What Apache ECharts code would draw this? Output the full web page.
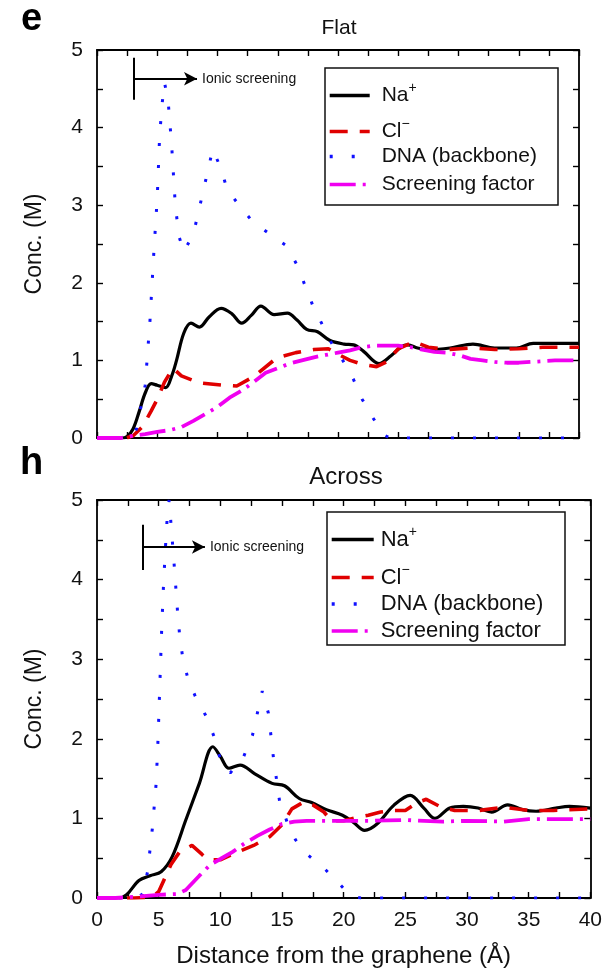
<!DOCTYPE html>
<html>
<head>
<meta charset="utf-8">
<title>Ion concentration profiles near graphene</title>
<script src="https://cdn.jsdelivr.net/npm/echarts@6/dist/echarts.min.js"></script>
<style>
  html, body { margin: 0; padding: 0; background: #fff; }
  #chart { width: 605px; height: 971px; }
</style>
</head>
<body>
<div id="chart"></div>
<script>
// Distance from the graphene (Å) vs concentration (M), panel "Flat"
const flatNa = [[0,0],[2,0],[2.5,0.02],[3,0.12],[3.5,0.34],[4,0.58],[4.5,0.70],[5,0.68],[5.7,0.65],[6.2,0.8],[6.6,1.0],[7.2,1.35],[7.8,1.48],[8.5,1.43],[9.3,1.56],[10.3,1.67],[11.2,1.6],[12.0,1.48],[12.8,1.58],[13.6,1.70],[14.7,1.59],[15.8,1.61],[16.6,1.52],[17.4,1.40],[18.3,1.37],[19.3,1.26],[20.5,1.21],[21.3,1.2],[22.1,1.12],[23.4,0.96],[24.4,1.06],[25.3,1.18],[25.8,1.2],[26.6,1.16],[27.5,1.14],[29.3,1.16],[31.2,1.21],[33,1.16],[34.8,1.16],[36.2,1.22],[38,1.22],[40,1.22]];
const flatCl = [[0,0],[2.4,0],[3,0.03],[3.8,0.15],[4.5,0.35],[5,0.5],[5.6,0.72],[6.3,0.9],[7,0.8],[8.5,0.71],[10.5,0.68],[11.6,0.67],[13,0.79],[14.9,1.03],[16.5,1.1],[18,1.14],[19.2,1.15],[20,1.08],[21,1.0],[22,0.95],[23.2,0.92],[24,0.98],[25,1.15],[26.3,1.24],[27.5,1.17],[29,1.14],[31,1.16],[33,1.14],[35,1.15],[37,1.17],[40,1.17]];
const flatDna = [[0,0],[3,0],[3.3,0.13],[4.0,0.68],[4.4,1.52],[4.7,2.35],[5.0,3.1],[5.2,3.9],[5.4,4.3],[5.6,4.58],[5.9,4.35],[6.2,3.76],[6.5,3.0],[6.8,2.6],[7.2,2.4],[8.0,2.63],[8.8,3.17],[9.6,3.72],[10.3,3.47],[10.8,3.2],[11.8,3.0],[12.9,2.79],[14.4,2.62],[15.7,2.48],[16.6,2.23],[17.9,1.71],[19.4,1.24],[20.4,1.0],[21.3,0.75],[22.0,0.5],[22.9,0.26],[23.8,0.04],[24.3,0],[40,0]];
const flatScr = [[0,0],[2,0],[3,0.03],[4,0.05],[5,0.08],[6,0.1],[7,0.14],[8,0.22],[9,0.31],[10,0.4],[11,0.52],[12,0.61],[13,0.72],[14,0.84],[15,0.9],[16,0.96],[17,1.0],[18,1.04],[19,1.07],[20,1.1],[21,1.13],[22,1.17],[23,1.19],[24,1.19],[25,1.19],[26,1.17],[27,1.14],[28,1.11],[29,1.1],[30,1.07],[31,1.02],[32,1.0],[33,0.98],[34,0.97],[35,0.97],[36,0.98],[37,0.99],[38,1.0],[39,1.0],[40,1.0]];

// Panel "Across"
const acrossNa = [[0,0],[1.8,0],[2.4,0.04],[3.4,0.22],[4.3,0.28],[5.2,0.33],[6.1,0.52],[7.2,0.98],[8.3,1.44],[9.4,1.9],[10.0,1.78],[10.7,1.63],[11.6,1.67],[12.8,1.56],[14.2,1.44],[15.2,1.41],[16.4,1.25],[17.4,1.2],[18.6,1.11],[19.9,1.04],[20.8,0.95],[21.7,0.85],[22.7,0.93],[24.1,1.17],[25.4,1.29],[26.5,1.13],[27.4,1.0],[28.6,1.13],[29.7,1.15],[30.9,1.13],[32.0,1.08],[33.3,1.17],[34.5,1.11],[35.6,1.09],[37.2,1.13],[38.3,1.15],[40,1.13]];
const acrossCl = [[0,0],[3,0],[4.5,0.01],[5,0.08],[5.5,0.25],[6,0.42],[6.7,0.58],[7.7,0.66],[8.5,0.55],[9,0.48],[10,0.48],[11,0.55],[12.7,0.66],[14,0.77],[15,0.92],[15.8,1.12],[16.8,1.21],[17.5,1.17],[18.4,1.08],[19,0.97],[20,0.97],[21,1.01],[22,1.04],[23,1.08],[24,1.1],[25,1.1],[26,1.2],[26.7,1.24],[27.8,1.15],[29,1.1],[31,1.1],[33,1.14],[35,1.1],[37,1.1],[40,1.12]];
const acrossDna = [[0,0],[3.2,0],[3.7,0.05],[4.1,0.33],[4.5,0.89],[4.8,1.45],[4.95,2.0],[5.1,2.7],[5.25,3.4],[5.4,3.96],[5.55,4.4],[5.7,4.8],[5.85,5.0],[6.0,4.7],[6.27,4.16],[6.53,3.6],[6.7,3.3],[6.93,3.04],[7.33,2.78],[7.95,2.54],[8.86,2.28],[9.56,2.0],[10.0,1.74],[10.8,1.57],[11.9,1.78],[12.6,2.04],[13.4,2.6],[13.9,2.32],[14.3,1.77],[14.8,1.22],[15.4,0.96],[16.1,0.73],[17.1,0.54],[18.5,0.36],[19.7,0.17],[20.6,0.02],[21.4,0],[40,0]];
const acrossScr = [[0,0],[1.5,0],[2.5,0.01],[3.5,0.02],[5,0.04],[6.5,0.05],[7.2,0.1],[8.3,0.28],[9.2,0.42],[10,0.49],[11,0.58],[12,0.69],[13,0.78],[14,0.86],[15,0.93],[16,0.96],[17,0.97],[20,0.97],[22,0.97],[25,0.98],[28,0.96],[30,0.97],[33,0.96],[35,0.99],[40,0.99]];

// Axis ranges and tick labels
const xTicks = [0, 5, 10, 15, 20, 25, 30, 35, 40];
const yTicks = [0, 1, 2, 3, 4, 5];
const seriesNames = ['Na+', 'Cl\u2212', 'DNA (backbone)', 'Screening factor'];
const panelTitles = ['Flat', 'Across'];
const panelLetters = ['e', 'h'];
const xAxisTitle = 'Distance from the graphene (\u00C5)';
const yAxisTitle = 'Conc. (M)';
const noteText = 'Ionic screening';
// Annotation bar and arrow, data coordinates [x, yLow, yHigh, yArrow, xArrowEnd]
const flatNote = [3.05, 4.36, 4.9, 4.63, 8.3];
const acrossNote = [3.72, 4.12, 4.69, 4.41, 8.75];

const FONT = 'Liberation Sans, Arial, Helvetica, sans-serif';
const INK = '#111';

const grids = [
  { left: 97, top: 50, width: 482, height: 388 },
  { left: 97, top: 500, width: 498, height: 398 }
];

// Legend boxes: frame rectangle, icon left edge, icon width, text gap, font size, row centres
const legendBoxes = [
  { x: 325, y: 68, w: 233, h: 137, iconX: 328, iconW: 40, textPad: 7, font: 21, rows: [93, 129, 158, 186] },
  { x: 327, y: 512, w: 238, h: 133, iconX: 330, iconW: 42, textPad: 2, font: 22, rows: [537, 575, 605, 632] }
];

const tickStyle = { color: '#000', width: 1.4 };

function xAxisFor(g, pos, labels) {
  return {
    type: 'value', gridIndex: g, position: pos,
    min: xTicks[0], max: xTicks[xTicks.length - 1], interval: xTicks[1] - xTicks[0],
    axisLine: { show: true, onZero: false, lineStyle: { color: '#000', width: 1.8 } },
    axisTick: { show: true, inside: true, length: 6, lineStyle: tickStyle },
    minorTick: { show: true, splitNumber: 2, length: 6, lineStyle: tickStyle },
    splitLine: { show: false },
    axisLabel: { show: labels, margin: 12, fontSize: 21, color: INK, fontFamily: FONT },
    name: labels ? xAxisTitle : '',
    nameLocation: 'middle', nameGap: 46,
    nameTextStyle: { fontSize: 24, color: INK, fontFamily: FONT }
  };
}
function yAxisFor(g, pos, labels) {
  return {
    type: 'value', gridIndex: g, position: pos,
    min: yTicks[0], max: yTicks[yTicks.length - 1], interval: yTicks[1] - yTicks[0],
    axisLine: { show: true, onZero: false, lineStyle: { color: '#000', width: 1.8 } },
    axisTick: { show: true, inside: true, length: 6, lineStyle: tickStyle },
    minorTick: { show: true, splitNumber: 2, length: 6, lineStyle: tickStyle },
    splitLine: { show: false },
    axisLabel: { show: labels, margin: 14, fontSize: 21, color: INK, fontFamily: FONT },
    name: labels ? yAxisTitle : '',
    nameLocation: 'middle', nameGap: 51,
    nameTextStyle: { fontSize: 23, color: INK, fontFamily: FONT }
  };
}

const styles = [
  { color: '#000000', width: 3.2, type: 'solid', smooth: 0.35 },
  { color: '#e00000', width: 3.6, type: [18, 12], smooth: 0 },
  { color: '#1010ff', width: 3.0, type: [3, 19], smooth: 0 },
  { color: '#f000f0', width: 3.8, type: [26, 7, 3, 7], smooth: 0 }
];

function noteMarks(n) {
  return {
    silent: true, animation: false,
    lineStyle: { color: '#000', width: 2, type: 'solid' },
    data: [
      [ { coord: [n[0], n[1]], symbol: 'none' },
        { coord: [n[0], n[2]], symbol: 'none' } ],
      [ { coord: [n[0], n[3]], symbol: 'none' },
        { coord: [n[4], n[3]], symbol: 'arrow', symbolSize: [10, 13],
          label: { show: true, position: 'end', distance: 5, formatter: noteText,
                   fontSize: 14, color: INK, fontFamily: FONT } } ]
    ],
    label: { show: false }
  };
}

const panelData = [
  [flatNa, flatCl, flatDna, flatScr],
  [acrossNa, acrossCl, acrossDna, acrossScr]
];
const notes = [flatNote, acrossNote];

const series = [];
panelData.forEach((sets, g) => {
  sets.forEach((d, i) => {
    const s = styles[i];
    const item = {
      type: 'line', name: seriesNames[i],
      xAxisIndex: g * 2, yAxisIndex: g * 2,
      data: d, symbol: 'none', showSymbol: false, smooth: s.smooth,
      clip: true, animation: false,
      lineStyle: { color: s.color, width: s.width, type: s.type, cap: 'butt' },
      itemStyle: { color: s.color },
      emphasis: { disabled: true }
    };
    if (i === 0) item.markLine = noteMarks(notes[g]);
    series.push(item);
  });
});

function richFor(size) {
  return {
    b: { fontSize: size, color: INK, fontFamily: FONT },
    s: { fontSize: Math.round(size * 0.65), color: INK, fontFamily: FONT, padding: [0, 0, Math.round(size * 0.7), 0] }
  };
}
function legendLabel(name) {
  if (name === 'Na+') return '{b|Na}{s|+}';
  if (name === 'Cl\u2212') return '{b|Cl}{s|\u2212}';
  return '{b|' + name + '}';
}

// One legend entry per row so each row sits at its own height inside the frame
const legends = [];
const frames = [];
legendBoxes.forEach((box) => {
  frames.push({
    type: 'rect', z: 3,
    shape: { x: box.x, y: box.y, width: box.w, height: box.h },
    style: { fill: '#fff', stroke: '#111', lineWidth: 1.5 }
  });
  seriesNames.forEach((name, i) => {
    legends.push({
      orient: 'vertical', left: box.iconX, top: box.rows[i] - 12, z: 5,
      data: [name], selectedMode: false,
      itemWidth: box.iconW, itemHeight: 24, itemGap: 0, padding: 0,
      lineStyle: { width: 3.4 },
      itemStyle: { opacity: 0 },
      formatter: legendLabel,
      textStyle: { fontSize: box.font, color: INK, fontFamily: FONT, padding: [0, 0, 0, box.textPad], rich: richFor(box.font) }
    });
  });
});

const option = {
  backgroundColor: '#fff',
  animation: false,
  grid: grids,
  xAxis: [xAxisFor(0, 'bottom', false), xAxisFor(0, 'top', false), xAxisFor(1, 'bottom', true), xAxisFor(1, 'top', false)],
  yAxis: [yAxisFor(0, 'left', true), yAxisFor(0, 'right', false), yAxisFor(1, 'left', true), yAxisFor(1, 'right', false)],
  legend: legends,
  graphic: frames.concat([
    { type: 'text', x: 21, y: 20, style: { text: panelLetters[0], font: 'bold 38px ' + FONT, fill: '#000', textVerticalAlign: 'middle' } },
    { type: 'text', x: 20, y: 464, style: { text: panelLetters[1], font: 'bold 38px ' + FONT, fill: '#000', textVerticalAlign: 'middle' } },
    { type: 'text', x: 339, y: 28, style: { text: panelTitles[0], font: '21px ' + FONT, fill: INK, textAlign: 'center', textVerticalAlign: 'middle' } },
    { type: 'text', x: 346, y: 477, style: { text: panelTitles[1], font: '24px ' + FONT, fill: INK, textAlign: 'center', textVerticalAlign: 'middle' } }
  ]),
  series: series
};

const chart = echarts.init(document.getElementById('chart'), null, { renderer: 'canvas' });
chart.setOption(option);
</script>
</body>
</html>
